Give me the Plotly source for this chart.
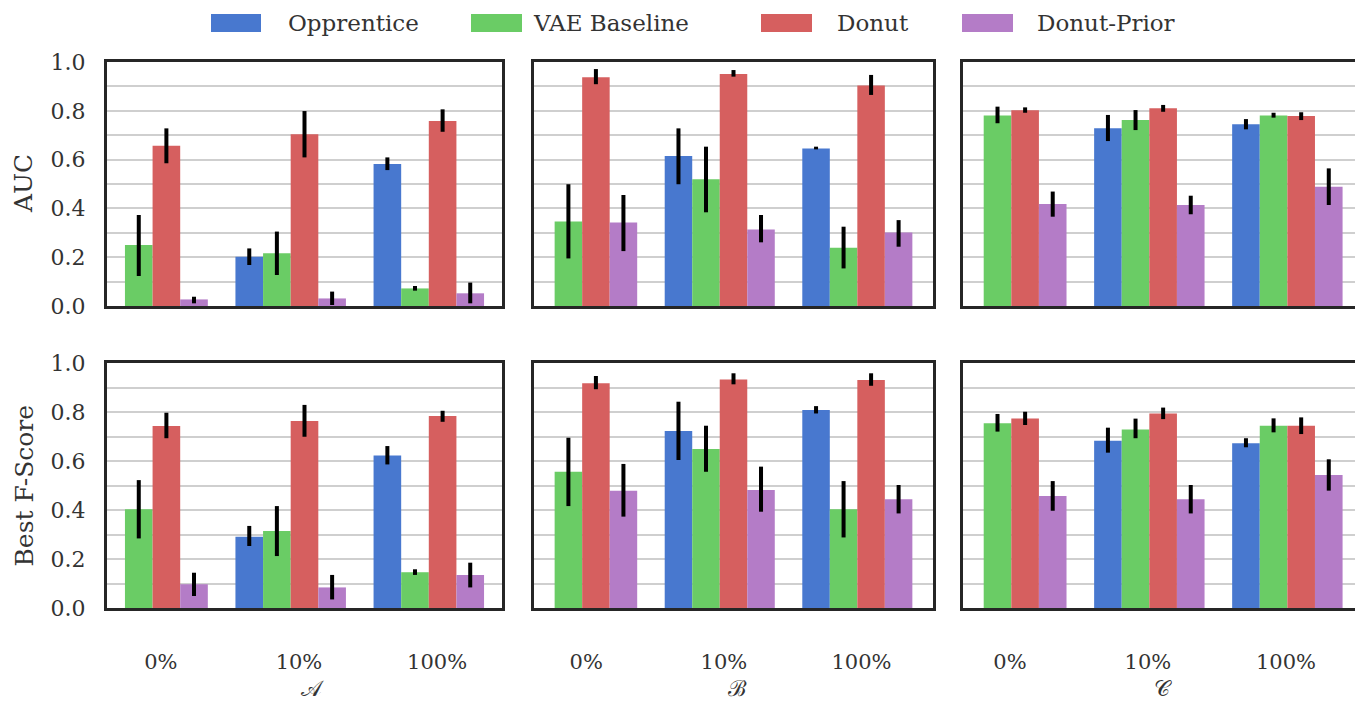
import plotly.graph_objects as go
from plotly.subplots import make_subplots

# ---------------- data ----------------
series = ["Opprentice", "VAE Baseline", "Donut", "Donut-Prior"]
colors = ["#4878CF", "#6ACC65", "#D65F5F", "#B47CC7"]
ratios = ["0%", "10%", "100%"]
datasets = ["𝒜", "ℬ", "𝒞"]
metrics = ["AUC", "Best F-Score"]
group_pos = [0, 1, 2]

# each list: rows = series (Opprentice, VAE Baseline, Donut, Donut-Prior), cols = ratios
auc_A = [[None, 0.202, 0.582], [0.250, 0.216, 0.072], [0.657, 0.704, 0.758], [0.027, 0.031, 0.052]]
auc_A_lo = [[None, 0.168, 0.557], [0.123, 0.127, 0.063], [0.585, 0.609, 0.714], [0.011, 0.004, 0.011]]
auc_A_hi = [[None, 0.236, 0.609], [0.373, 0.305, 0.082], [0.728, 0.799, 0.806], [0.038, 0.059, 0.096]]

auc_B = [[None, 0.615, 0.646], [0.346, 0.519, 0.239], [0.937, 0.951, 0.904], [0.342, 0.314, 0.301]]
auc_B_lo = [[None, 0.499, 0.642], [0.195, 0.384, 0.154], [0.909, 0.940, 0.865], [0.225, 0.261, 0.243]]
auc_B_hi = [[None, 0.728, 0.653], [0.499, 0.653, 0.325], [0.971, 0.967, 0.947], [0.455, 0.373, 0.352]]

auc_C = [[None, 0.728, 0.745], [0.781, 0.762, 0.781], [0.802, 0.810, 0.779], [0.418, 0.414, 0.489]]
auc_C_lo = [[None, 0.676, 0.724], [0.749, 0.721, 0.772], [0.792, 0.796, 0.762], [0.366, 0.376, 0.414]]
auc_C_hi = [[None, 0.783, 0.766], [0.817, 0.803, 0.792], [0.814, 0.824, 0.794], [0.469, 0.452, 0.564]]

f_A = [[None, 0.291, 0.622], [0.403, 0.314, 0.146], [0.743, 0.763, 0.784], [0.097, 0.084, 0.135]]
f_A_lo = [[None, 0.253, 0.586], [0.284, 0.212, 0.135], [0.693, 0.699, 0.760], [0.049, 0.035, 0.084]]
f_A_hi = [[None, 0.335, 0.661], [0.522, 0.416, 0.158], [0.797, 0.829, 0.805], [0.144, 0.135, 0.185]]

f_B = [[None, 0.722, 0.808], [0.556, 0.649, 0.403], [0.917, 0.933, 0.931], [0.479, 0.482, 0.444]]
f_B_lo = [[None, 0.604, 0.794], [0.416, 0.556, 0.288], [0.893, 0.913, 0.907], [0.373, 0.393, 0.386]]
f_B_hi = [[None, 0.842, 0.824], [0.695, 0.744, 0.518], [0.947, 0.958, 0.958], [0.588, 0.577, 0.502]]

f_C = [[None, 0.683, 0.672], [0.754, 0.729, 0.744], [0.773, 0.794, 0.744], [0.457, 0.444, 0.543]]
f_C_lo = [[None, 0.634, 0.656], [0.720, 0.693, 0.717], [0.747, 0.771, 0.710], [0.397, 0.386, 0.479]]
f_C_hi = [[None, 0.736, 0.693], [0.792, 0.773, 0.774], [0.801, 0.818, 0.778], [0.518, 0.502, 0.607]]

panels = [
    [(auc_A, auc_A_lo, auc_A_hi), (auc_B, auc_B_lo, auc_B_hi), (auc_C, auc_C_lo, auc_C_hi)],
    [(f_A, f_A_lo, f_A_hi), (f_B, f_B_lo, f_B_hi), (f_C, f_C_lo, f_C_hi)],
]

# ---------------- layout geometry ----------------
W, H = 1355, 703
FONT = "DejaVu Serif"
TXT = "#333333"
GRID = "#cfcfcf"
AX = "#262626"

x_dom_px = [(107, 502), (534, 933), (963, 1355)]
x_ranges = [[-0.33, 2.53], [-0.35, 2.55], [-0.35, 2.49]]
tick_shift = [0.06, 0.03, -0.01]
y_dom_px = [(62, 306), (363, 608)]

fig = make_subplots(rows=2, cols=3)


def up(v, h):
    return [None if a is None else b - a for a, b in zip(v, h)]


def down(v, l):
    return [None if a is None else a - b for a, b in zip(v, l)]


for r in range(2):
    for c in range(3):
        vals, lo, hi = panels[r][c]
        for s in range(4):
            fig.add_trace(
                go.Bar(
                    x=group_pos,
                    y=vals[s],
                    name=series[s],
                    marker=dict(color=colors[s], line=dict(width=0)),
                    error_y=dict(
                        type="data",
                        symmetric=False,
                        array=up(vals[s], hi[s]),
                        arrayminus=down(vals[s], lo[s]),
                        color="black",
                        thickness=4,
                        width=0,
                    ),
                    showlegend=False,
                ),
                row=r + 1,
                col=c + 1,
            )

for r in range(2):
    for c in range(3):
        idx = r * 3 + c + 1
        xa = "xaxis" if idx == 1 else f"xaxis{idx}"
        ya = "yaxis" if idx == 1 else f"yaxis{idx}"
        x0, x1 = x_dom_px[c]
        y0, y1 = y_dom_px[r]
        fig.layout[xa].update(
            domain=[x0 / W, min(x1 / W, 1.0)],
            range=x_ranges[c],
            showgrid=False,
            zeroline=False,
            showline=True,
            mirror=True,
            linewidth=3,
            linecolor=AX,
            ticks="",
            tickmode="array",
            tickvals=[g + tick_shift[c] for g in group_pos],
            ticktext=ratios,
            showticklabels=(r == 1),
            ticklabelstandoff=33,
            tickfont=dict(family=FONT, size=21, color=TXT),
        )
        fig.layout[ya].update(
            domain=[1 - y1 / H, 1 - y0 / H],
            range=[0, 1],
            showgrid=True,
            gridcolor=GRID,
            gridwidth=2,
            minor=dict(dtick=0.1, showgrid=True, gridcolor=GRID, gridwidth=2, ticks=""),
            zeroline=False,
            showline=True,
            mirror=(c != 2),
            linewidth=3,
            linecolor=AX,
            ticks="",
            tickmode="linear",
            tick0=0,
            dtick=0.2,
            tickformat=".1f",
            showticklabels=(c == 0),
            ticklabelstandoff=14,
            tickfont=dict(family=FONT, size=22, color=TXT),
        )

annotations = []
# y-axis titles
for r in range(2):
    y0, y1 = y_dom_px[r]
    annotations.append(dict(
        text=metrics[r], xref="paper", yref="paper",
        x=24 / W, y=1 - ((y0 + y1) / 2) / H,
        textangle=-90, showarrow=False, xanchor="center", yanchor="middle",
        font=dict(family=FONT, size=25, color=TXT),
    ))
# dataset labels
label_x = [312, 738, 1163]
for c in range(3):
    annotations.append(dict(
        text=datasets[c], xref="paper", yref="paper",
        x=label_x[c] / W, y=0,
        showarrow=False, xanchor="center", yanchor="bottom",
        font=dict(family=FONT, size=22, color=TXT),
    ))

# custom legend (wide swatches like the reference)
sw_x = [(211, 261), (471, 522), (761, 812), (962, 1013)]
txt_x = [286, 531, 835, 1035]
leg_cy = 23
shapes = []
for s in range(4):
    a, b = sw_x[s]
    shapes.append(dict(
        type="rect", xref="paper", yref="paper",
        x0=a / W, x1=b / W, y0=1 - (leg_cy + 9) / H, y1=1 - (leg_cy - 9) / H,
        fillcolor=colors[s], line=dict(width=0),
    ))
    annotations.append(dict(
        text=series[s], xref="paper", yref="paper",
        x=txt_x[s] / W, y=1 - leg_cy / H,
        showarrow=False, xanchor="left", yanchor="middle",
        font=dict(family=FONT, size=23, color=TXT),
    ))

fig.update_layout(
    width=W,
    height=H,
    margin=dict(l=0, r=0, t=0, b=0, pad=0, autoexpand=False),
    paper_bgcolor="white",
    plot_bgcolor="white",
    barmode="group",
    bargap=0.2,
    bargroupgap=0,
    annotations=annotations,
    shapes=shapes,
    font=dict(family=FONT, color=TXT),
)

fig.write_html(
    "out.html",
    config={"displayModeBar": False},
    post_script=(
        "document.body.style.margin='0';"
        "document.documentElement.style.overflow='hidden';"
        "document.body.style.overflow='hidden';"
    ),
)
